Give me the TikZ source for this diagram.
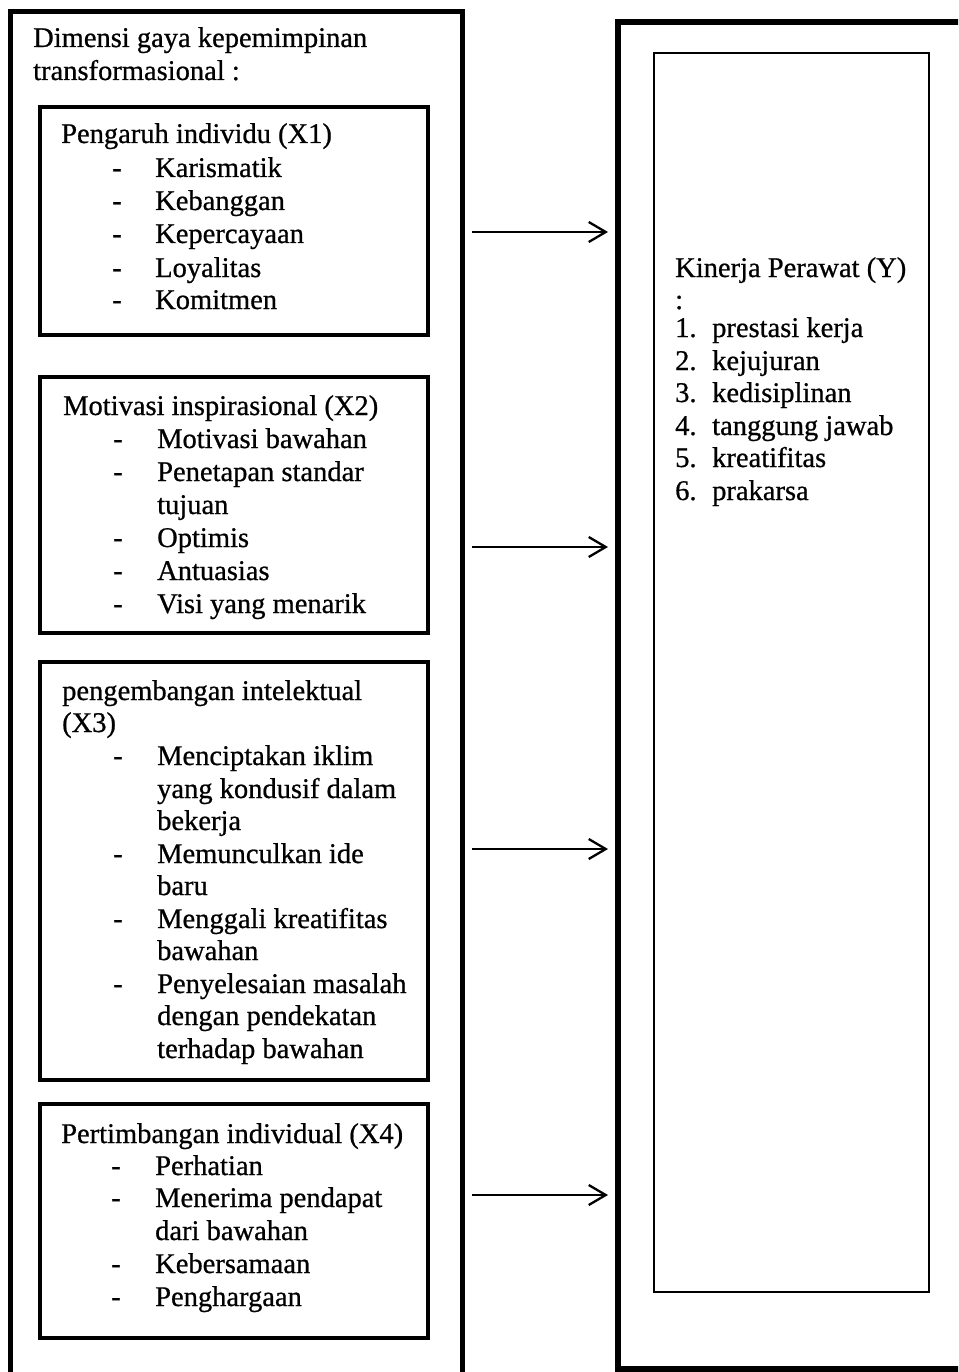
\documentclass[tikz,border=0pt]{standalone}
\usepackage{fontspec}
\setmainfont{Liberation Serif}[FakeBold=0.7]
\usetikzlibrary{arrows.meta}
\begin{document}
\begin{tikzpicture}[x=1pt,y=-1pt,
  txt/.style={anchor=base west, inner sep=0pt, font=\fontsize{28.5}{33}\selectfont},
  box/.style={draw, line width=3.5pt, anchor=north west, inner sep=0pt, outer sep=0pt},
  conn/.style={line width=2.3pt, -{Straight Barb[length=17pt,width=20pt,line width=2.3pt]}}]
\fill[white] (0,0) rectangle (958,1372);
\useasboundingbox (0,0) rectangle (958,1372);
\clip (0,0) rectangle (958,1372);

% outer boxes
\node[box, line width=5pt, minimum width=452pt, minimum height=1400pt] (outerL) at (10,12) {};
\node[box, line width=6pt, minimum width=400pt, minimum height=1347pt] (outerR) at (618,22) {};
\node[box, line width=2.5pt, minimum width=275pt, minimum height=1239pt] (innerR) at (654,53) {};

% inner boxes
\node[box, minimum width=388pt, minimum height=228pt] (bx1) at (40,107) {};
\node[box, minimum width=388pt, minimum height=256pt] (bx2) at (40,377) {};
\node[box, minimum width=388pt, minimum height=418pt] (bx3) at (40,662) {};
\node[box, minimum width=388pt, minimum height=234pt] (bx4) at (40,1104) {};

% title
\node[txt] (t1) at (33,47) {Dimensi gaya kepemimpinan};
\node[txt] (t2) at (33,80) {transformasional :};

% X1
\node[txt] (h1) at (61,143) {Pengaruh individu (X1)};
\foreach[count=\i] \t/\y in {Karismatik/177, Kebanggan/210, Kepercayaan/243, Loyalitas/277, Komitmen/309}{
  \node[txt] (d1\i) at (112,\y) {-};
  \node[txt] (i1\i) at (155,\y) {\t};
}

% X2
\node[txt] (h2) at (63,415) {Motivasi inspirasional (X2)};
\foreach[count=\i] \t/\y in {Motivasi bawahan/448, Penetapan standar/481, Optimis/547, Antuasias/580, Visi yang menarik/613}{
  \node[txt] (d2\i) at (113,\y) {-};
  \node[txt] (i2\i) at (157,\y) {\t};
}
\node[txt] (i2b) at (157,514) {tujuan};

% X3
\node[txt] (h3a) at (62,700) {pengembangan intelektual};
\node[txt] (h3b) at (62,732) {(X3)};
\foreach[count=\i] \t/\y in {Menciptakan iklim/765, Memunculkan ide/863, Menggali kreatifitas/928, Penyelesaian masalah/993}{
  \node[txt] (d3\i) at (113,\y) {-};
  \node[txt] (i3\i) at (157,\y) {\t};
}
\foreach[count=\i] \t/\y in {yang kondusif dalam/798, bekerja/830, baru/895, bawahan/960, dengan pendekatan/1025, terhadap bawahan/1058}{
  \node[txt] (c3\i) at (157,\y) {\t};
}

% X4
\node[txt] (h4) at (61,1143) {Pertimbangan individual (X4)};
\foreach[count=\i] \t/\y in {Perhatian/1175, Menerima pendapat/1207, Kebersamaan/1273, Penghargaan/1306}{
  \node[txt] (d4\i) at (111,\y) {-};
  \node[txt] (i4\i) at (155,\y) {\t};
}
\node[txt] (i4b) at (155,1240) {dari bawahan};

% Y
\node[txt] (hy) at (675,277) {Kinerja Perawat (Y)};
\node[txt] (hyc) at (675,309) {:};
\foreach[count=\i] \t/\y in {prestasi kerja/337, kejujuran/370, kedisiplinan/402, tanggung jawab/435, kreatifitas/467, prakarsa/500}{
  \node[txt] (ny\i) at (675,\y) {\i.};
  \node[txt] (iy\i) at (712,\y) {\t};
}

% connectors
\coordinate (s1) at (472,232); \coordinate (e1) at (608,232);
\coordinate (s2) at (472,547); \coordinate (e2) at (608,547);
\coordinate (s3) at (472,849); \coordinate (e3) at (608,849);
\coordinate (s4) at (472,1195); \coordinate (e4) at (608,1195);
\draw[conn] (s1) -- (e1);
\draw[conn] (s2) -- (e2);
\draw[conn] (s3) -- (e3);
\draw[conn] (s4) -- (e4);
\end{tikzpicture}
\end{document}
